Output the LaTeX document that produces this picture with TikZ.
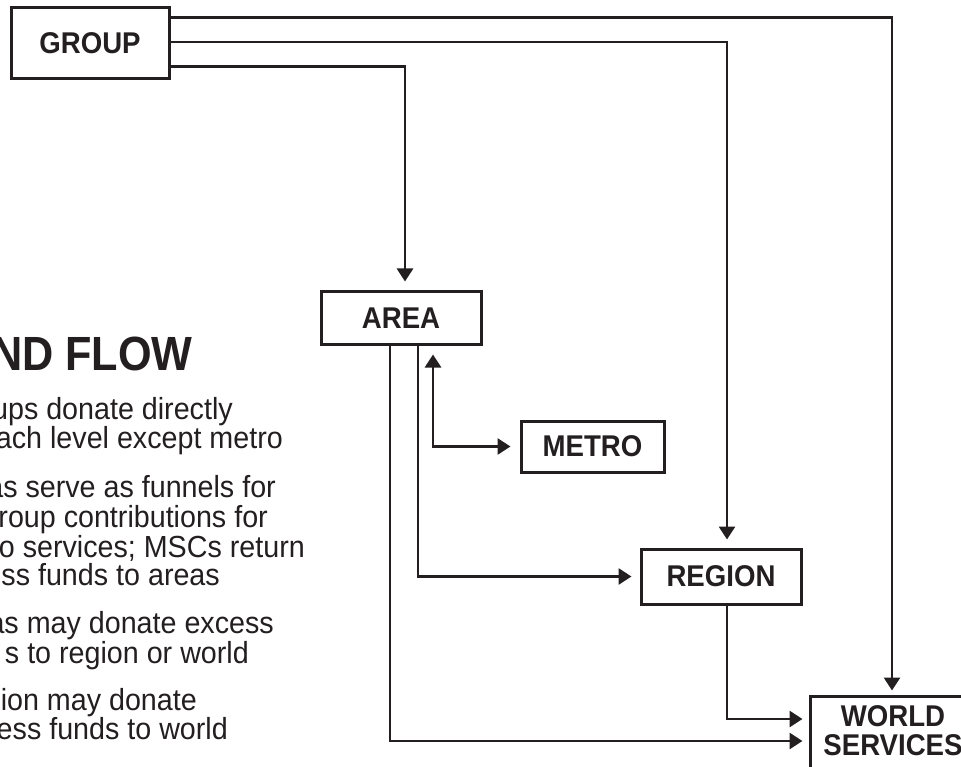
\documentclass[tikz,border=0pt]{standalone}
\usepackage{fontspec}
\setmainfont{Liberation Sans}
\newfontfamily\bodyfont[FakeStretch=0.94]{Liberation Sans}
\newfontfamily\titlefont[FakeStretch=0.9]{Liberation Sans}
\newfontfamily\labelfont[FakeStretch=0.92]{Liberation Sans}
\usetikzlibrary{arrows.meta}
\definecolor{ink}{RGB}{35,31,32}
\tikzset{
  box/.style={draw=ink, line width=3pt, inner sep=0pt, text=ink,
    font=\labelfont\bfseries\fontsize{30}{30}\selectfont},
  lbl/.style={inner sep=0pt, text=ink, font=\labelfont\bfseries\fontsize{30}{30}\selectfont, align=center},
  arr/.style={draw=ink, line width=2.8pt, -{Triangle[width=16pt,length=13pt]}},
  arrboth/.style={draw=ink, line width=2.8pt, {Triangle[width=16pt,length=13pt]}-{Triangle[width=16pt,length=13pt]}},
  body/.style={anchor=base east, inner sep=0pt, text=ink, font=\bodyfont\fontsize{30.5}{30}\selectfont},
  ttl/.style={anchor=base east, inner sep=0pt, text=ink, font=\titlefont\bfseries\fontsize{48}{50}\selectfont}
}
\begin{document}
\begin{tikzpicture}[x=1pt,y=-1pt]
\useasboundingbox[fill=white] (0,0) rectangle (961,767);

% boxes
\node[box, minimum width=158pt, minimum height=71pt] (group) at (90,43.5) {GROUP};
\node[box, minimum width=160pt, minimum height=52pt] (area) at (401,318) {AREA};
\node[box, minimum width=143pt, minimum height=51pt] (metro) at (592.5,446.5) {METRO};
\node[box, minimum width=160pt, minimum height=55pt] (region) at (721,576.5) {REGION};
\node[box, minimum width=166pt, minimum height=90pt] (ws) at (893,741) {};
\node[lbl] (wstext) at (893,731) {WORLD\\[-1pt]SERVICES};

% x positions of the vertical runs
\coordinate (c1) at (892,0);
\coordinate (c2) at (727,0);
\coordinate (c3) at (405,0);
\coordinate (c4) at (390,0);
\coordinate (c6) at (418,0);
\coordinate (c7) at (433,0);
\coordinate (c5) at (0,741);
\coordinate (c8) at (0,719);

% connectors
\draw[arr] ([yshift=-11pt]group.north east) -| ([yshift=4pt]ws.north -| c1);
\draw[arr] ([yshift=1.5pt]group.east) -| ([yshift=8pt]region.north -| c2);
\draw[arr] ([yshift=14pt]group.south east) -| ([yshift=9pt]area.north -| c3);
\draw[arr] (area.south -| c4) |- ([xshift=-6pt]ws.west |- c5);
\draw[arr] (area.south -| c6) |- ([xshift=-8pt]region.west);
\draw[arrboth] ([yshift=-9pt]area.south -| c7) |- ([xshift=-9pt]metro.west);
\draw[arr] (region.south -| c2) |- ([xshift=-6pt]ws.west |- c8);

% text at left (cut by the page edge)
\node[ttl] (title) at (193,370) {ND FLOW};
\node[body] (l1) at (233,419) {ups donate directly};
\node[body] (l2) at (283,448) {ach level except metro};
\node[body] (l3) at (276,497) {as serve as funnels for};
\node[body] (l4) at (268,527) {roup contributions for};
\node[body] (l5) at (305,557) {ro services; MSCs return};
\node[body] (l6) at (220,585) {ss funds to areas};
\node[body] (l7) at (274,633) {as may donate excess};
\node[body] (l8) at (249,663) {s to region or world};
\node[body] (l9) at (197,710) {ion may donate};
\node[body] (l10) at (228,739) {ess funds to world};
\end{tikzpicture}
\end{document}
